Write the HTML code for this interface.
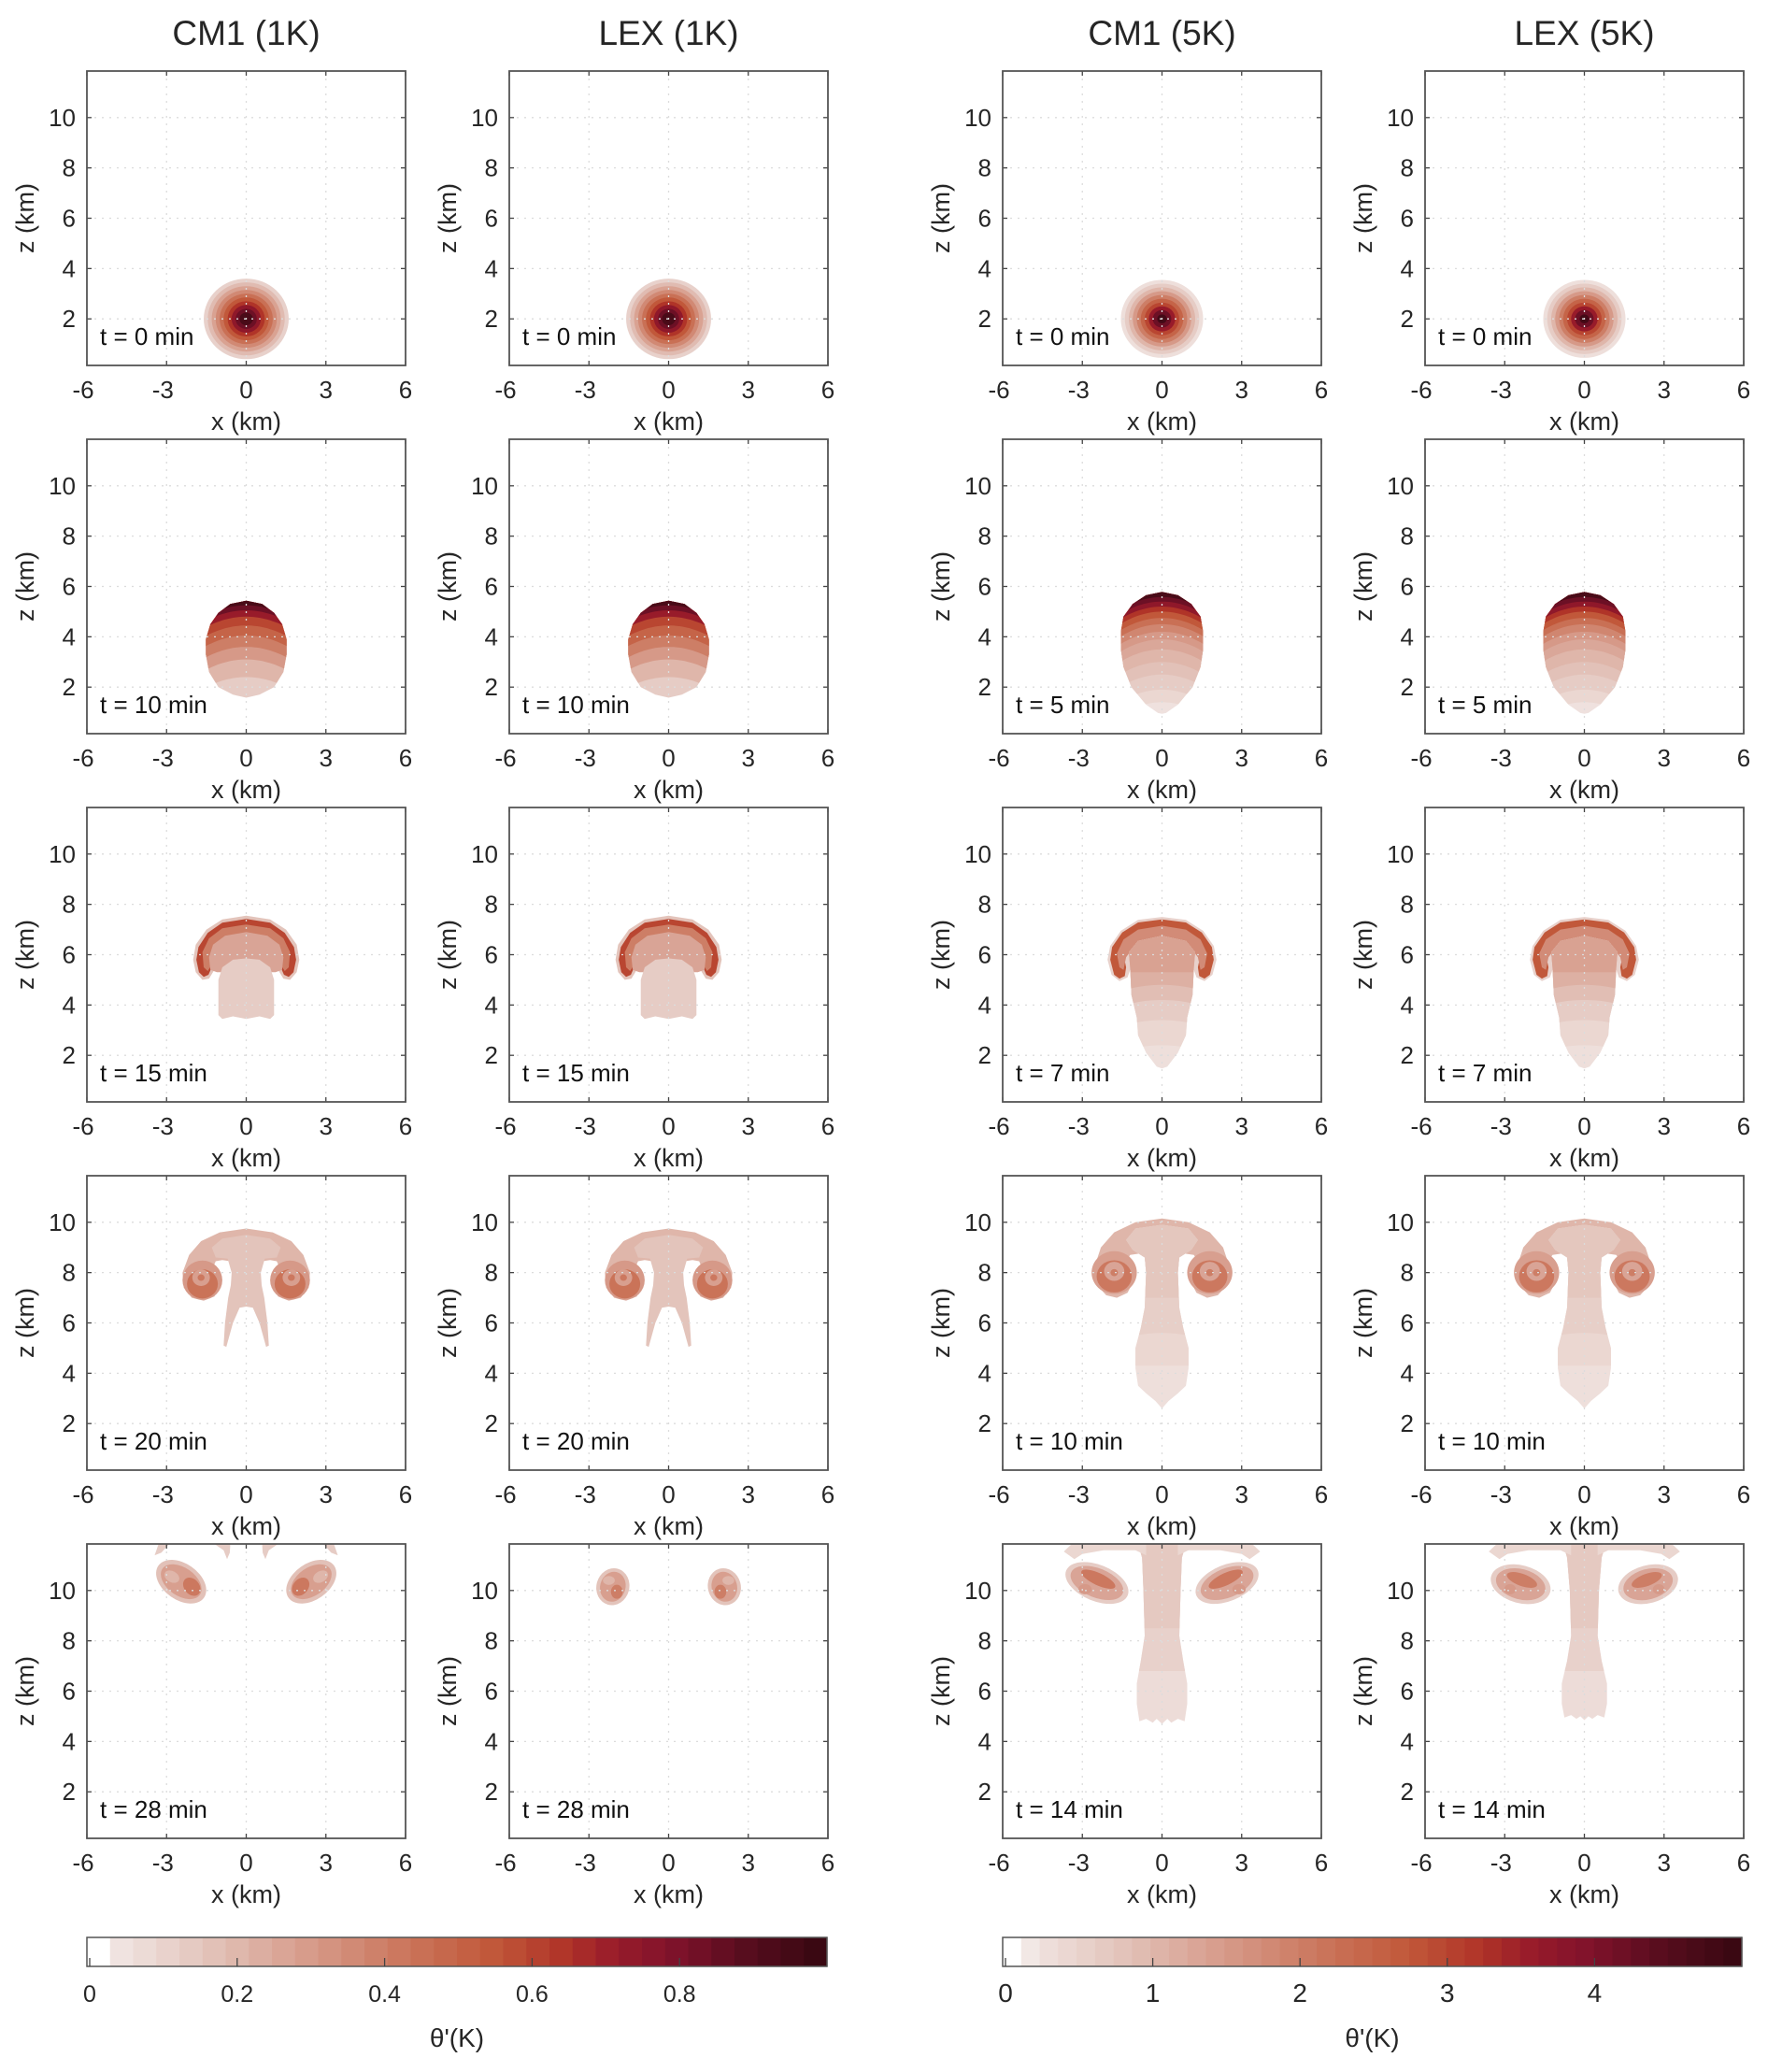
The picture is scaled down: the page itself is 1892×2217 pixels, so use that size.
<!DOCTYPE html>
<html><head><meta charset="utf-8"><style>
html,body{margin:0;padding:0;background:#fff}
svg{display:block;font-family:"Liberation Sans",Arial,sans-serif}
</style></head><body>
<svg id="fig" width="1892" height="2217" viewBox="0 0 1892 2217" xmlns="http://www.w3.org/2000/svg"></svg>
<script>
// ---------- data ----------
const colTitles = ["CM1 (1K)","LEX (1K)","CM1 (5K)","LEX (5K)"];
const times1K = [0,10,15,20,28];
const times5K = [0,5,7,10,14];
const xTicks = [-6,-3,0,3,6];
const zTicks = [2,4,6,8,10];
const cbTicks1K = [0,0.2,0.4,0.6,0.8];
const cbTicks5K = [0,1,2,3,4];
const cbMax1K = 1, cbMax5K = 5;
const ringR1K = [1.6,1.45,1.3,1.15,1.0,0.85,0.7,0.55,0.4,0.25];
const ringV1K = [0.1,0.18,0.27,0.36,0.45,0.55,0.65,0.75,0.85,0.95];
const ringR5K = [1.55,1.4,1.25,1.1,0.95,0.8,0.65,0.5,0.35,0.18];
const ringV5K = [0.05,0.12,0.2,0.3,0.4,0.5,0.6,0.72,0.85,0.97];

const r2_1K = [{t:'bp',v:0.12,pts:[[0,5.43],[0.6,5.3],[1.05,4.95],[1.35,4.5],[1.52,3.9],[1.52,3.3],[1.4,2.6],[1.05,2.0],[0.5,1.7],[0,1.58]],
  bands:[[2.4,0.18,0.2],[3.1,0.18,0.3],[3.6,0.18,0.4],[4.05,0.18,0.5],[4.45,0.18,0.6],[4.8,0.18,0.72],[5.05,0.18,0.85],[5.25,0.18,0.95]]}];
const r2_5K = [{t:'bp',v:0.04,pts:[[0,5.78],[0.6,5.65],[1.1,5.3],[1.45,4.8],[1.55,4.2],[1.55,3.5],[1.45,2.8],[1.15,2.0],[0.6,1.3],[0.15,0.97],[0,0.94]],
  bands:[[1.4,0.2,0.08],[1.9,0.2,0.12],[2.5,0.2,0.16],[3.0,0.2,0.2],[3.5,0.2,0.25],[3.9,0.2,0.3],[4.2,0.2,0.37],[4.5,0.2,0.45],[4.75,0.2,0.55],[5.0,0.2,0.65],[5.2,0.2,0.75],[5.4,0.2,0.85],[5.58,0.2,0.95]]}];
const r3_1K = [
  {t:'p',v:0.15,pts:[[0,7.55],[0.9,7.4],[1.5,7.0],[1.9,6.4],[2.0,5.8],[1.9,5.3],[1.65,5.0],[1.4,5.05],[1.2,5.4],[0,5.4]]},
  {t:'p',v:0.6,pts:[[0,7.42],[0.9,7.27],[1.45,6.87],[1.8,6.3],[1.88,5.8],[1.78,5.3],[1.6,5.12],[1.42,5.2],[1.3,5.5],[1.35,6.0],[1.1,6.5],[0.6,6.8],[0,6.85]]},
  {t:'p',v:0.4,pts:[[0,7.2],[0.9,7.05],[1.4,6.65],[1.65,6.1],[1.6,5.5],[1.45,5.35],[1.3,5.6],[1.2,6.1],[0.8,6.45],[0,6.55]]},
  {t:'p',v:0.26,pts:[[0,6.9],[0.8,6.75],[1.25,6.4],[1.4,5.9],[1.35,5.4],[1.1,5.3],[0,5.3]]},
  {t:'p',v:0.12,pts:[[0,5.85],[0.5,5.8],[0.9,5.5],[1.05,5.0],[1.05,3.6],[0.9,3.45],[0.5,3.55],[0,3.45]]}];
const r3_5K = [
  {t:'p',v:0.1,pts:[[0,7.5],[0.9,7.38],[1.55,6.95],[1.95,6.35],[2.05,5.8],[1.9,5.2],[1.6,4.95],[1.3,5.1],[1.2,5.4],[0,5.4]]},
  {t:'p',v:0.55,pts:[[0,7.4],[0.9,7.28],[1.5,6.88],[1.88,6.3],[1.95,5.8],[1.8,5.2],[1.6,5.05],[1.4,5.15],[1.35,5.5],[1.45,6.0],[1.15,6.6],[0.6,6.95],[0,7.0]]},
  {t:'p',v:0.35,pts:[[0,7.15],[0.9,7.0],[1.45,6.6],[1.7,6.05],[1.6,5.5],[1.45,5.4],[1.35,5.9],[1.0,6.4],[0,6.6]]},
  {t:'bp',v:0.05,pts:[[0,6.75],[0.9,6.55],[1.25,6.1],[1.2,5.5],[1.15,4.4],[0.95,3.5],[0.9,2.8],[0.6,2.1],[0.2,1.55],[0,1.48]],
   bands:[[2.4,0.1,0.08],[3.4,0.1,0.12],[4.2,0.1,0.17],[4.8,0.1,0.22],[5.3,0,0.27]]}];
const r4_1K = [
  {t:'p',v:0.2,pts:[[0,9.75],[1.0,9.6],[1.7,9.25],[2.15,8.7],[2.4,8.0],[2.35,7.4],[2.05,7.0],[1.6,6.88],[1.2,7.05],[0.95,7.5],[1.0,7.95],[1.25,8.2],[1.15,8.45],[0.9,8.5],[0.6,8.45],[0,8.5]]},
  {t:'p',v:0.15,pts:[[0,9.5],[0.9,9.35],[1.3,9.0],[1.15,8.6],[0.7,8.55],[0.55,8.0],[0.58,7.5],[0.68,7.0],[0.8,6.0],[0.85,5.1],[0.75,5.05],[0.5,6.0],[0.25,6.6],[0,6.65]]},
  {t:'e',m:true,x:1.65,z:7.7,rx:0.75,rz:0.78,rot:0,v:0.3},
  {t:'e',m:true,x:1.65,z:7.55,rx:0.58,rz:0.58,rot:0,v:0.44},
  {t:'e',m:true,x:1.7,z:7.8,rx:0.33,rz:0.33,rot:0,v:0.28},
  {t:'e',m:true,x:1.7,z:7.8,rx:0.13,rz:0.13,rot:0,v:0.42}];
const r4_5K = [
  {t:'p',v:0.2,pts:[[0,10.15],[1.0,10.0],[1.8,9.6],[2.3,9.0],[2.55,8.2],[2.45,7.5],[2.1,7.1],[1.7,7.0],[1.3,7.2],[1.05,7.7],[1.1,8.2],[1.35,8.45],[1.2,8.7],[0.9,8.75],[0,8.8]]},
  {t:'bp',v:0.05,pts:[[0,9.9],[1.0,9.75],[1.35,9.3],[1.1,8.9],[0.65,8.6],[0.6,8.0],[0.65,6.6],[0.8,5.8],[1.0,5.0],[1.0,4.2],[0.9,3.5],[0.6,3.2],[0.25,2.9],[0,2.6]],
   bands:[[4.3,0,0.08],[5.6,0.1,0.11],[7,0,0.14]]},
  {t:'e',m:true,x:1.8,z:8.0,rx:0.85,rz:0.85,rot:0,v:0.28},
  {t:'e',m:true,x:1.8,z:7.85,rx:0.66,rz:0.64,rot:0,v:0.42},
  {t:'e',m:true,x:1.8,z:8.05,rx:0.38,rz:0.38,rot:0,v:0.26},
  {t:'e',m:true,x:1.8,z:8.0,rx:0.14,rz:0.14,rot:0,v:0.4}];
const r5_CM1_1K = [
  {t:'pm',v:0.12,pts:[[0.6,11.85],[1.2,11.85],[0.85,11.6],[0.72,11.25],[0.62,11.5]]},
  {t:'pm',v:0.12,pts:[[2.9,11.85],[3.3,11.85],[3.45,11.4],[3.2,11.5]]},
  {t:'e',m:true,x:2.45,z:10.35,rx:1.05,rz:0.72,rot:-35,v:0.16},
  {t:'e',m:true,x:2.45,z:10.35,rx:0.86,rz:0.56,rot:-35,v:0.28},
  {t:'e',m:true,x:2.05,z:10.15,rx:0.38,rz:0.3,rot:-50,v:0.42},
  {t:'e',m:true,x:2.8,z:10.55,rx:0.3,rz:0.22,rot:-30,v:0.2}];
const r5_LEX_1K = [
  {t:'e',m:true,x:2.1,z:10.15,rx:0.62,rz:0.74,rot:-15,v:0.15},
  {t:'e',m:true,x:2.1,z:10.15,rx:0.48,rz:0.6,rot:-15,v:0.28},
  {t:'e',m:true,x:1.95,z:9.95,rx:0.22,rz:0.28,rot:0,v:0.4},
  {t:'e',m:true,x:2.25,z:10.4,rx:0.22,rz:0.18,rot:0,v:0.2}];
const r5_CM1_5K = [
  {t:'bp',v:0.06,pts:[[0,11.85],[0.9,11.85],[0.75,11.3],[0.7,10],[0.65,8.2],[0.8,7.2],[0.95,6.3],[0.95,5.5],[0.85,4.8],[0.6,4.9],[0.35,4.75],[0.2,4.9],[0,4.7]],
   bands:[[6.8,0,0.1],[8.5,0,0.13]]},
  {t:'pm',v:0.08,pts:[[0.6,11.85],[3.4,11.85],[3.7,11.55],[3.3,11.25],[3.0,11.45],[2.2,11.6],[1.0,11.6],[0.6,11.4]]},
  {t:'e',m:true,x:2.45,z:10.3,rx:1.25,rz:0.72,rot:-22,v:0.12},
  {t:'e',m:true,x:2.45,z:10.3,rx:1.05,rz:0.58,rot:-22,v:0.26},
  {t:'e',m:true,x:2.4,z:10.45,rx:0.7,rz:0.24,rot:-25,v:0.42},
  {t:'e',m:true,x:2.9,z:10.05,rx:0.25,rz:0.2,rot:0,v:0.3}];
const r5_LEX_5K = [
  {t:'bp',v:0.06,pts:[[0,11.85],[0.8,11.85],[0.65,11.3],[0.55,10],[0.5,8.2],[0.65,7.2],[0.85,6.3],[0.85,5.5],[0.75,4.95],[0.5,5.05],[0.3,4.9],[0.15,5.0],[0,4.85]],
   bands:[[6.8,0,0.1],[8.5,0,0.13]]},
  {t:'pm',v:0.08,pts:[[0.5,11.85],[3.3,11.85],[3.6,11.55],[3.2,11.25],[2.9,11.45],[2.1,11.6],[0.9,11.6],[0.5,11.4]]},
  {t:'e',m:true,x:2.4,z:10.25,rx:1.15,rz:0.75,rot:-15,v:0.12},
  {t:'e',m:true,x:2.4,z:10.25,rx:0.95,rz:0.6,rot:-15,v:0.26},
  {t:'e',m:true,x:2.35,z:10.42,rx:0.6,rz:0.24,rot:-20,v:0.4},
  {t:'e',m:true,x:2.8,z:10.05,rx:0.22,rz:0.2,rot:0,v:0.3}];

// ---------- layout ----------
const NS="http://www.w3.org/2000/svg";
const svg=document.getElementById('fig');
const colX=[93,545,1073,1525], rowY=[76,470,864,1258,1652];
const PW=341, PH=315, XMIN=-6, XMAX=6, ZMIN=0.15, ZMAX=11.85;
const stops=[[0,[255,255,255]],[0.03,[240,228,225]],[0.15,[227,196,187]],[0.3,[214,153,136]],[0.45,[201,112,85]],[0.55,[193,88,58]],[0.65,[176,52,40]],[0.72,[152,27,42]],[0.8,[128,18,43]],[0.9,[88,13,30]],[1.0,[58,8,18]]];
function cmap(v){v=Math.max(0,Math.min(1,v));for(let i=1;i<stops.length;i++){if(v<=stops[i][0]){const a=stops[i-1],b=stops[i],t=(v-a[0])/(b[0]-a[0]);const c=a[1].map((x,k)=>Math.round(x+(b[1][k]-x)*t));return `rgb(${c[0]},${c[1]},${c[2]})`;}}return 'rgb(58,8,18)';}
function mk(tag,attrs,parent){const e=document.createElementNS(NS,tag);for(const k in attrs)e.setAttribute(k,attrs[k]);(parent||svg).appendChild(e);return e;}
function txt(s,x,y,size,anchor,parent,extra){const e=mk('text',Object.assign({x:x,y:y,'font-size':size,'text-anchor':anchor||'middle',fill:'#262626'},extra||{}),parent);e.textContent=s;return e;}
let clipId=0;

function drawPanel(ci,ri,layers,rings,time){
  const L=colX[ci],T=rowY[ri];
  const X=x=>L+(x-XMIN)/(XMAX-XMIN)*PW, Z=z=>T+(ZMAX-z)/(ZMAX-ZMIN)*PH;
  const g=mk('g',{});
  
  
  const cid='pc'+(clipId++);
  const cp=mk('clipPath',{id:cid},g);mk('rect',{x:L,y:T,width:PW,height:PH},cp);
  const field=mk('g',{'clip-path':`url(#${cid})`},g);
  
  
  if(rings){rings.R.forEach((r,i)=>{const c=mk('ellipse',{cx:X(0),cy:Z(2),rx:X(r)-X(0),ry:Z(2)-Z(2+r),fill:cmap(rings.V[i])},field);
    });}
  const full=pts=>{const m=pts.slice().reverse().map(p=>[-p[0],p[1]]);return pts.concat(m);};
  const toStr=pts=>pts.map(p=>X(p[0]).toFixed(1)+','+Z(p[1]).toFixed(1)).join(' ');
  (layers||[]).forEach(ly=>{
    if(ly.t==='p'||ly.t==='bp'){
      const pts=full(ly.pts);
      const p=mk('polygon',{points:toStr(pts),fill:cmap(ly.v)},field);
      
      if(ly.t==='bp'){
        const bid='bc'+(clipId++);const bc=mk('clipPath',{id:bid},field);mk('polygon',{points:toStr(pts)},bc);
        const bg=mk('g',{'clip-path':`url(#${bid})`},field);
        ly.bands.forEach(b=>{const cur=[];for(let x=-3;x<=3.001;x+=0.1)cur.push([x,b[0]-b[1]*x*x]);cur.push([3,12],[-3,12]);
          const q=mk('polygon',{points:toStr(cur),fill:cmap(b[2])},bg);
          });
      }
    } else if(ly.t==='pm'){
      [1,-1].forEach(s=>{const q=mk('polygon',{points:toStr(ly.pts.map(p=>[s*p[0],p[1]])),fill:cmap(ly.v)},field);
        });
    } else if(ly.t==='e'){
      (ly.m?[1,-1]:[1]).forEach(s=>{const cx=X(s*ly.x),cy=Z(ly.z);
        const e=mk('ellipse',{cx:cx,cy:cy,rx:(ly.rx*PW/12).toFixed(1),ry:(ly.rz*PH/11.7).toFixed(1),fill:cmap(ly.v),transform:`rotate(${s*ly.rot} ${cx} ${cy})`},field);
        });
    }
  });
  const grid=mk('g',{stroke:'#dcdcdc','stroke-width':1.3,'stroke-dasharray':'2,6'},g);
  
  xTicks.slice(1,-1).forEach(x=>mk('line',{x1:X(x),x2:X(x),y1:T,y2:T+PH},grid));
  zTicks.forEach(z=>mk('line',{x1:L,x2:L+PW,y1:Z(z),y2:Z(z)},grid));
  const tk=mk('g',{stroke:'#444','stroke-width':1.3},g);
  xTicks.forEach(x=>{mk('line',{x1:X(x),x2:X(x),y1:T+PH,y2:T+PH-5},tk);mk('line',{x1:X(x),x2:X(x),y1:T,y2:T+5},tk);});
  zTicks.forEach(z=>{mk('line',{x1:L,x2:L+5,y1:Z(z),y2:Z(z)},tk);mk('line',{x1:L+PW,x2:L+PW-5,y1:Z(z),y2:Z(z)},tk);});
  const box=mk('rect',{x:L,y:T,width:PW,height:PH,fill:'none',stroke:'#555','stroke-width':1.8},g);
  
  xTicks.forEach(x=>{const t=txt(String(x),X(x)-(x<0?4:0),T+PH+35,26,'middle',g);});
  zTicks.forEach(z=>{const t=txt(String(z),L-12,Z(z)+9,26,'end',g);});
  const xl=txt('x (km)',L+PW/2,T+PH+69,27,'middle',g);
  const zl=txt('z (km)',0,0,27,'middle',g,{transform:`translate(${L-57},${T+PH/2}) rotate(-90)`});
  const tl=txt(`t = ${time} min`,L+14,T+PH-22,26,'start',g,{fill:'#111'});
}

colTitles.forEach((s,i)=>{const t=txt(s,colX[i]+PW/2,48,37,'middle');});

const layersByCol=[
  [null,r2_1K,r3_1K,r4_1K,r5_CM1_1K],
  [null,r2_1K,r3_1K,r4_1K,r5_LEX_1K],
  [null,r2_5K,r3_5K,r4_5K,r5_CM1_5K],
  [null,r2_5K,r3_5K,r4_5K,r5_LEX_5K]];
for(let c=0;c<4;c++)for(let r=0;r<5;r++){
  const is1K=c<2;
  const rings=r===0?(is1K?{R:ringR1K,V:ringV1K}:{R:ringR5K,V:ringV5K}):null;
  drawPanel(c,r,layersByCol[c][r],rings,is1K?times1K[r]:times5K[r]);
}

function colorbar(L,R,max,ticks,nseg,name,fs){
  const T=2073,Hc=31;const g=mk('g',{});
  
  const w=(R-L)/nseg;
  for(let i=0;i<nseg;i++){const r=mk('rect',{x:(L+i*w).toFixed(2),y:T,width:(w+0.6).toFixed(2),height:Hc,fill:cmap(i/(nseg-1))},g);
    }
  mk('rect',{x:L,y:T,width:R-L,height:Hc,fill:'none',stroke:'#555','stroke-width':1.5},g);
  ticks.forEach(v=>{const x=L+3+v/max*(R-L-3);mk('line',{x1:x,x2:x,y1:T+Hc,y2:T+Hc-9,stroke:'#444','stroke-width':1.3},g);
    const t=txt(String(v),x,2142,fs,'middle',g);});
  const lb=txt("θ'(K)",(L+R)/2,2190,28,'middle',g);
}
colorbar(93,885,cbMax1K,cbTicks1K,32,'colorbar-1k',25);
colorbar(1073,1864,cbMax5K,cbTicks5K,40,'colorbar-5k',28);
</script>
</body></html>
